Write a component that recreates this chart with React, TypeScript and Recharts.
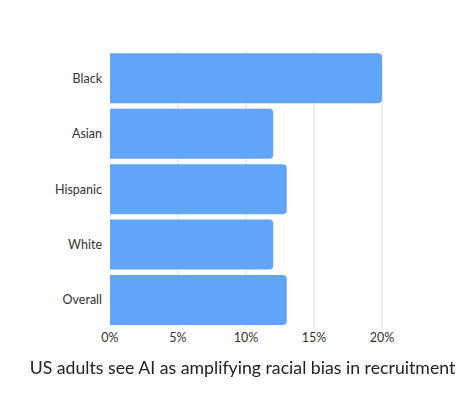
import { BarChart, Bar, XAxis, YAxis, CartesianGrid } from "recharts";

const groups = ["Black", "Asian", "Hispanic", "White", "Overall"];
const shares = [20, 12, 13, 12, 13];
const xTicks = [0, 5, 10, 15, 20];
const title = "US adults see AI as amplifying racial bias in recruitment";

const data = groups.map((group, i) => ({ group, share: shares[i] }));

const FONT = "Lato, 'Open Sans', sans-serif";

export default function App() {
  return (
    <div
      style={{
        position: "fixed",
        left: 0,
        top: 0,
        width: 474,
        height: 397,
        background: "#fff",
        fontFamily: FONT,
      }}
    >
      <BarChart
        width={474}
        height={397}
        data={data}
        layout="vertical"
        margin={{ top: 50.6, right: 92, bottom: 39.3, left: 0 }}
        barCategoryGap={2.7}
      >
        <CartesianGrid
          horizontal={false}
          stroke="#dcdcdc"
          verticalValues={[5, 10, 15, 20]}
        />
        <XAxis
          type="number"
          domain={[0, 20]}
          ticks={xTicks}
          tickFormatter={(v) => `${v}%`}
          axisLine={false}
          tickLine={false}
          tickSize={0}
          tickMargin={5}
          height={30}
          tick={{ fill: "#333", fontSize: 12.5, fontFamily: FONT }}
        />
        <YAxis
          type="category"
          dataKey="group"
          width={110}
          axisLine={false}
          tickLine={false}
          tickSize={0}
          tickMargin={8}
          tick={{ fill: "#333", fontSize: 12.5, fontFamily: FONT }}
        />
        <Bar
          dataKey="share"
          fill="#60a5fa"
          radius={[0, 4, 4, 0]}
          isAnimationActive={false}
        />
      </BarChart>
      <div
        style={{
          position: "absolute",
          left: 0,
          width: 485,
          top: 356.5,
          textAlign: "center",
          fontSize: 17.7,
          color: "#222",
          whiteSpace: "nowrap",
        }}
      >
        {title}
      </div>
    </div>
  );
}
